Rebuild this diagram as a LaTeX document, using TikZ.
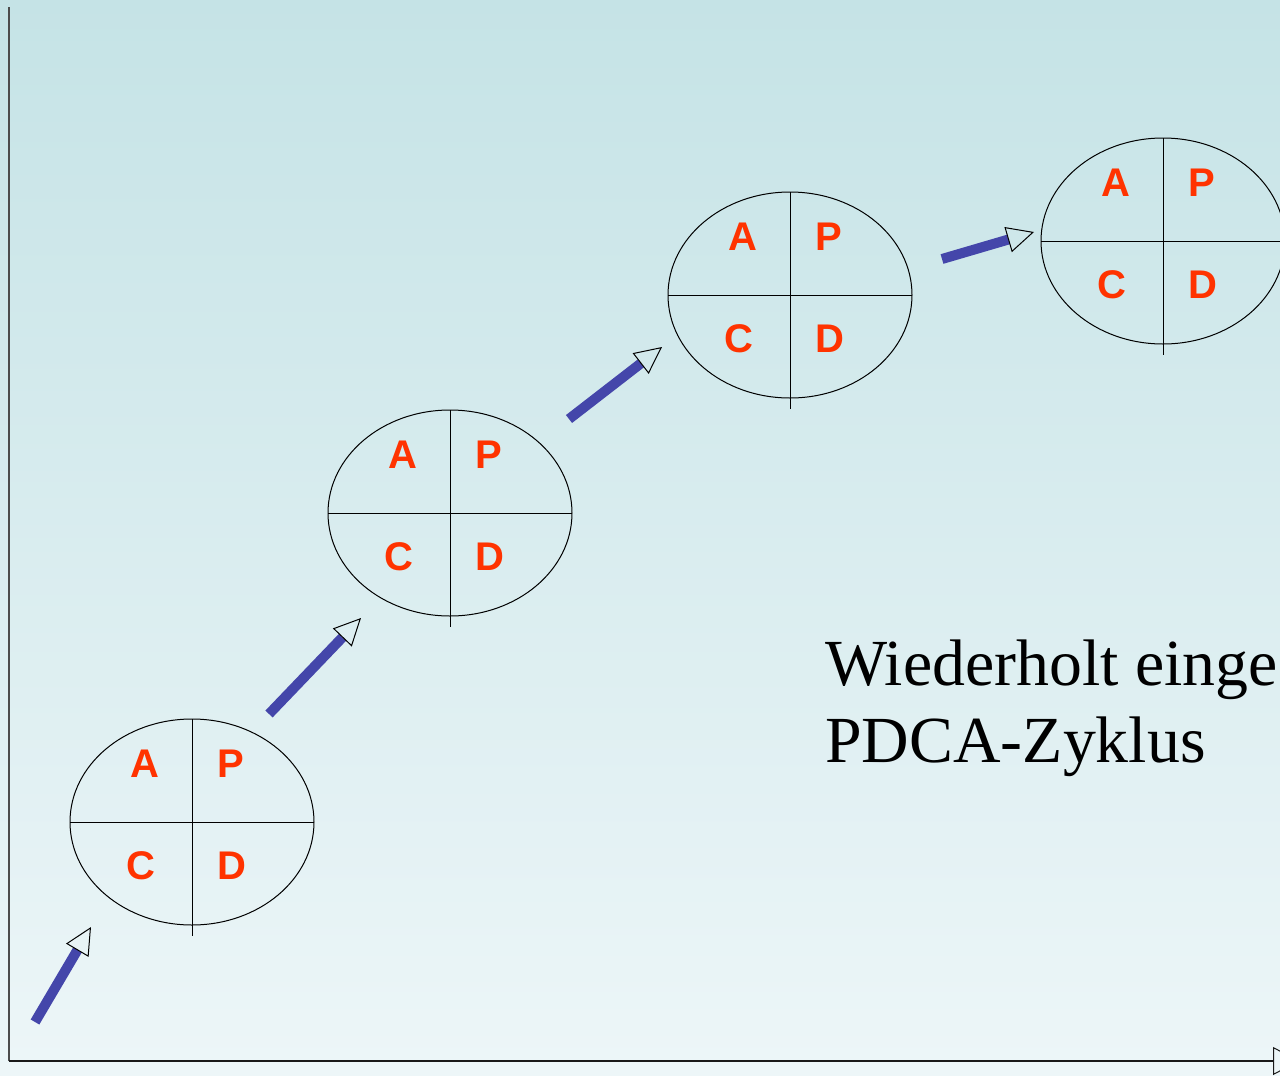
\documentclass[tikz,border=0pt]{standalone}
\usepackage{fontspec}
\setmainfont{Liberation Serif}
\newfontfamily\lettfont{Liberation Sans}
\usetikzlibrary{shapes.geometric,arrows.meta}
\definecolor{bgtop}{RGB}{197,227,230}
\definecolor{bgbot}{RGB}{237,246,248}
\definecolor{pdcared}{RGB}{255,51,0}
\definecolor{arrowblue}{RGB}{68,70,170}
\begin{document}
\begin{tikzpicture}[x=0.5pt,y=-0.5pt,
 cyc/.style={ellipse, draw, line width=0.5pt, minimum width=122pt, minimum height=103pt, inner sep=0pt, outer sep=0pt},
 lbl/.style={font=\lettfont\bfseries\fontsize{20}{21}\selectfont, text=pdcared, inner sep=0pt},
 quad/.style={line width=0.5pt},
 prog/.style={draw=arrowblue, line width=5pt, -{Triangle[open, length=13.5pt, width=13pt, line width=0.5pt, color=black]}},
 axisline/.style={line width=0.6pt},
 bigtext/.style={font=\fontsize{32.9}{38.5}\selectfont, anchor=base west, inner sep=0pt}]
\useasboundingbox (0,0) rectangle (1280,1076);
\clip (0,0) rectangle (1280,1076);
\shade[top color=bgtop, bottom color=bgbot] (0,0) rectangle (1280,1076);
% axes
\coordinate (O) at (9,1061);
\coordinate (ytop) at (9,7);
\coordinate (xend) at (1300,1061);
\draw[axisline, draw=black!70] (O) -- (ytop);
\draw[axisline, draw=black!90, -{Triangle[open, length=13.5pt, width=14pt, line width=0.5pt]}] (O) -- (xend);
% PDCA cycles
\foreach \n/\cx/\cy in {e1/192/822, e2/450/513, e3/790/295, e4/1163/241} {
  \node[cyc] (\n) at (\cx,\cy) {};
  \draw[quad] (\n.west) -- (\n.east);
  \draw[quad] (\n.north) -- ([yshift=-5.5pt]\n.south);
  \node[lbl] (\n-a) at ([shift={(-47,-58)}]\n.center) {A};
  \node[lbl] (\n-p) at ([shift={(39,-58)}]\n.center) {P};
  \node[lbl] (\n-c) at ([shift={(-51,44)}]\n.center) {C};
  \node[lbl] (\n-d) at ([shift={(40,44)}]\n.center) {D};
}
% progress arrows
\coordinate (s1) at (35,1022); \coordinate (t1) at (91,927);
\coordinate (s2) at (269,714); \coordinate (t2) at (361,618);
\coordinate (s3) at (569,419); \coordinate (t3) at (662,347);
\coordinate (s4) at (942,259); \coordinate (t4) at (1034,232);
\draw[prog] (s1) -- (t1);
\draw[prog] (s2) -- (t2);
\draw[prog] (s3) -- (t3);
\draw[prog] (s4) -- (t4);
% text
\node[bigtext] (txt1) at (825,685) {Wiederholt einge};
\node[bigtext] (txt2) at (825,762) {PDCA-Zyklus};
\end{tikzpicture}
\end{document}
